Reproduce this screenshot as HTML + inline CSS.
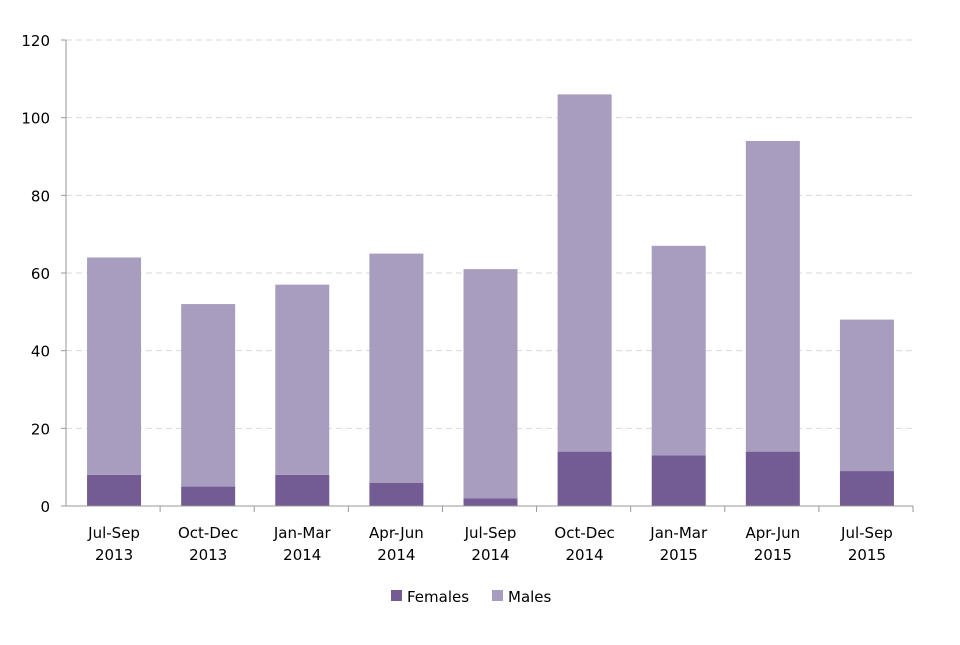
<!DOCTYPE html>
<html><head><meta charset="utf-8"><style>
body{margin:0;background:#fff;}
svg text{font-family:"DejaVu Sans","Liberation Sans",sans-serif;fill:#000;}
</style></head><body>
<svg id="chart" width="960" height="640"></svg>
<script>
const categories=[["Jul-Sep","2013"],["Oct-Dec","2013"],["Jan-Mar","2014"],["Apr-Jun","2014"],["Jul-Sep","2014"],["Oct-Dec","2014"],["Jan-Mar","2015"],["Apr-Jun","2015"],["Jul-Sep","2015"]];
const females=[8,5,8,6,2,14,13,14,9];
const males=[56,47,49,59,59,92,54,80,39];
const yTicks=[0,20,40,60,80,100,120];
const seriesNames=["Females","Males"];

const svg=document.getElementById('chart');
const NS='http://www.w3.org/2000/svg';
const x0=66,x1=913,yb=506,yt=40,yMax=120;
const cw=(x1-x0)/categories.length, bw=54;
function y(v){return yb-(v/yMax)*(yb-yt);}
function xc(i){return x0+cw*(i+0.5)+1;}
function mk(tag,a,parent){const e=document.createElementNS(NS,tag);for(const k in a)e.setAttribute(k,a[k]);(parent||svg).appendChild(e);return e;}

yTicks.forEach(t=>{
  if(t>0){const g=mk('line',{x1:x0,x2:x1,y1:y(t),y2:y(t),stroke:'#d9d9d9','stroke-dasharray':'6,4'});
  
  }
  const tx=mk('text',{x:x0-16,y:y(t)+6,'text-anchor':'end','font-size':15});
  tx.textContent=t;
  
  
  const tk=mk('line',{x1:x0-5,x2:x0,y1:y(t),y2:y(t),stroke:'#999'});
  
  
});
const ya=mk('line',{x1:x0,x2:x0,y1:yt,y2:yb,stroke:'#999'});



categories.forEach((c,i)=>{
  const cx=xc(i);
  const f=mk('rect',{x:cx-bw/2,y:y(females[i]),width:bw,height:yb-y(females[i]),fill:'#735b93'});
  
  
  const m=mk('rect',{x:cx-bw/2,y:y(females[i]+males[i]),width:bw,height:y(females[i])-y(females[i]+males[i]),fill:'#a89dbf'});
  
  
  const t=mk('text',{x:cx,y:538,'text-anchor':'middle','font-size':15});
  
  
  c.forEach((s,j)=>{const ts=mk('tspan',{x:cx,dy:j?22:0},t);ts.textContent=s;});
  const tk=mk('line',{x1:x0+cw*(i+1),x2:x0+cw*(i+1),y1:yb,y2:yb+6,stroke:'#999'});
  
  
});
const xa=mk('line',{x1:x0,x2:x1,y1:yb,y2:yb,stroke:'#999'});



const lg=[[391,'#735b93'],[492,'#a89dbf']];
seriesNames.forEach((n,i)=>{
  const r=mk('rect',{x:lg[i][0],y:590,width:11,height:11,fill:lg[i][1]});
  
  
  const t=mk('text',{x:lg[i][0]+16,y:602,'font-size':15});
  t.textContent=n;
  
  
});
</script>
</body></html>
